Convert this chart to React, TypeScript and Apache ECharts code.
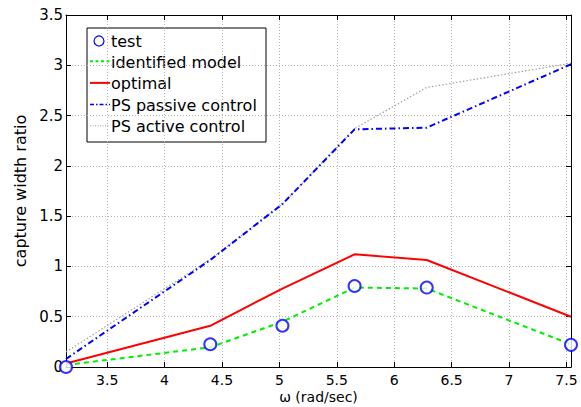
import React, { useEffect, useRef } from "react";
import * as echarts from "echarts";

// angular frequency (rad/sec)
const omega = [3.1416, 4.3982, 5.0265, 5.6549, 6.2832, 7.5398];
const testValues = [0.0, 0.226, 0.41, 0.805, 0.79, 0.22];
const identifiedValues = [0.02, 0.196, 0.45, 0.79, 0.78, 0.225];
const optimalValues = [0.035, 0.41, 0.78, 1.12, 1.064, 0.5];
const passiveValues = [0.08, 1.064, 1.62, 2.363, 2.38, 3.01];
const activeValues = [0.15, 1.07, 1.62, 2.37, 2.78, 3.02];
const xTicks = [3.5, 4, 4.5, 5, 5.5, 6, 6.5, 7, 7.5];
const seriesNames = ["test", "identified model", "optimal", "PS passive control", "PS active control"];

const pairs = (vals: number[]) => omega.map((x, i) => [x, vals[i]]);

const BLUE = "#0000ff";
const GREEN = "#00ee00";
const RED = "#ff0000";
const GRAY = "#a0a0a0";

export default function App() {
  const ref = useRef<HTMLDivElement>(null);
  useEffect(() => {
    const chart = echarts.init(ref.current!, null, { renderer: "svg" });
    const font = "DejaVu Sans";
    const xMin = omega[0];
    const xMax = omega[omega.length - 1];
    const axisLine = { show: true, onZero: false, lineStyle: { color: "#000", width: 1 } };
    const tick = { show: true, inside: true, length: 5, lineStyle: { color: "#000" } };
    const grid = { show: true, lineStyle: { color: "#b4b4b4", type: [1, 2], width: 1 } };

    // legend styles (matching series styles)
    const legendStyles: any[] = [
      { kind: "circle", color: BLUE },
      { kind: "line", color: GREEN, dash: [3, 2.5], width: 2 },
      { kind: "line", color: RED, dash: null, width: 2 },
      { kind: "line", color: BLUE, dash: [4, 2, 1.5, 2], width: 1.5 },
      { kind: "line", color: GRAY, dash: [1, 1.5], width: 1 },
    ];
    const lx = 87;
    const ly = 28;
    const rowCenters = [41, 62.2, 83.9, 105.4, 126.8];
    const legendChildren: any[] = [
      {
        type: "rect",
        shape: { x: lx, y: ly, width: 179, height: 114 },
        style: { fill: "#fff", stroke: "#000", lineWidth: 1 },
      },
    ];
    seriesNames.forEach((name, i) => {
      const st = legendStyles[i];
      const cy = rowCenters[i];
      if (st.kind === "circle") {
        legendChildren.push({
          type: "circle",
          shape: { cx: 99, cy: cy, r: 5 },
          style: { fill: "none", stroke: st.color, lineWidth: 1.2 },
        });
      } else {
        legendChildren.push({
          type: "line",
          shape: { x1: 90, y1: cy - 1, x2: 110, y2: cy - 1 },
          style: { stroke: st.color, lineWidth: st.width, lineDash: st.dash || undefined },
        });
      }
      legendChildren.push({
        type: "text",
        x: 111,
        y: cy,
        style: {
          text: name,
          fill: "#000",
          font: `16px "${font}"`,
          verticalAlign: "middle",
          align: "left",
        },
      });
    });

    const option: any = {
      animation: false,
      backgroundColor: "#fff",
      grid: { left: 66, right: 10, top: 15, bottom: 40, containLabel: false, outerBoundsMode: "none" },
      graphic: [{ type: "group", z: 100, children: legendChildren }],
      xAxis: [
        {
          type: "value",
          min: xMin,
          max: xMax,
          position: "bottom",
          axisLine,
          axisTick: { ...tick, customValues: xTicks },
          axisLabel: { customValues: xTicks, color: "#000", fontSize: 14, lineHeight: 14, fontFamily: font, margin: 6 },
          splitLine: grid,
          name: "ω (rad/sec)",
          nameLocation: "middle",
          nameGap: 30,
          nameMoveOverlap: false,
          nameTextStyle: { color: "#000", fontSize: 14, lineHeight: 14, fontFamily: font, verticalAlign: "middle" },
        },
        {
          type: "value",
          min: xMin,
          max: xMax,
          position: "top",
          axisLine,
          axisTick: { ...tick, customValues: xTicks },
          axisLabel: { show: false, customValues: xTicks },
          splitLine: { show: false },
        },
      ],
      yAxis: [
        {
          type: "value",
          min: 0,
          max: 3.5,
          interval: 0.5,
          position: "left",
          axisLine,
          axisTick: tick,
          axisLabel: { color: "#000", fontSize: 15, fontFamily: font, margin: 3 },
          splitLine: grid,
          name: "capture width ratio",
          nameLocation: "middle",
          nameGap: 38,
          nameMoveOverlap: false,
          nameTextStyle: { color: "#000", fontSize: 16, fontFamily: font },
        },
        {
          type: "value",
          min: 0,
          max: 3.5,
          interval: 0.5,
          position: "right",
          axisLine,
          axisTick: tick,
          axisLabel: { show: false },
          splitLine: { show: false },
        },
      ],
      series: [
        {
          name: "PS active control",
          type: "line",
          data: pairs(activeValues),
          symbol: "none",
          z: 1,
          itemStyle: { color: GRAY },
          lineStyle: { color: GRAY, width: 1.2, type: [1.5, 2] },
        },
        {
          name: "PS passive control",
          type: "line",
          data: pairs(passiveValues),
          symbol: "none",
          z: 2,
          itemStyle: { color: BLUE },
          lineStyle: { color: BLUE, width: 2, type: [6, 3, 1.5, 3] },
        },
        {
          name: "optimal",
          type: "line",
          data: pairs(optimalValues),
          symbol: "none",
          z: 3,
          itemStyle: { color: RED },
          lineStyle: { color: RED, width: 2, type: "solid" },
        },
        {
          name: "identified model",
          type: "line",
          data: pairs(identifiedValues),
          symbol: "none",
          z: 4,
          itemStyle: { color: GREEN },
          lineStyle: { color: GREEN, width: 2, type: [5, 4] },
        },
        {
          name: "test",
          type: "scatter",
          data: pairs(testValues),
          symbol: "emptyCircle",
          symbolSize: 12,
          z: 5,
          itemStyle: { color: BLUE, borderColor: BLUE, borderWidth: 1.2 },
        },
      ],
    };
    chart.setOption(option);
    return () => chart.dispose();
  }, []);
  return (
    <div
      ref={ref}
      style={{ position: "fixed", left: 0, top: 0, width: 581, height: 407, background: "#fff" }}
    />
  );
}
